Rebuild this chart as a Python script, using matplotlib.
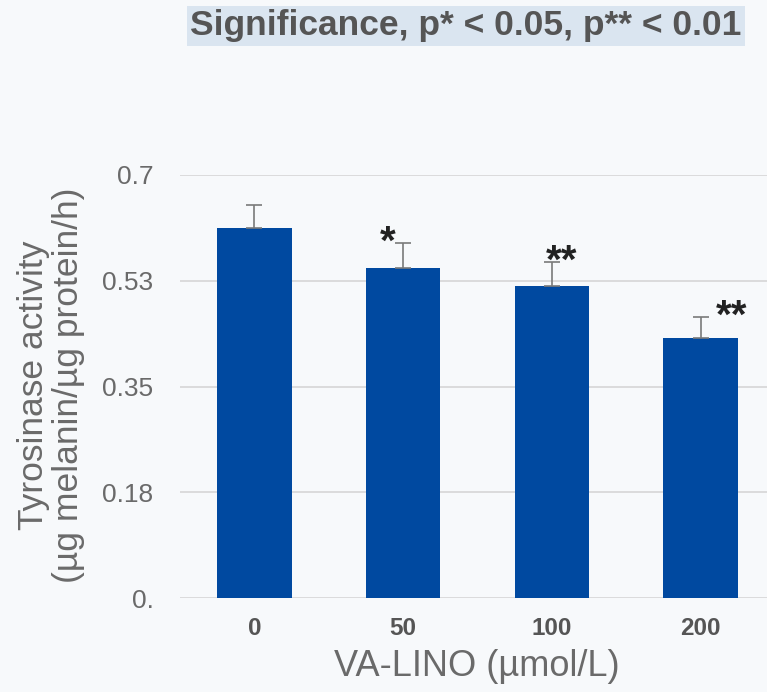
import matplotlib
matplotlib.use('Agg')
import matplotlib.pyplot as plt
import numpy as np

# -[Dati]-----------------------------------------------------------------------
doses  = ["0", "50", "100", "200"]
act    = [0.612, 0.546, 0.517, 0.430]
err    = [0.038, 0.042, 0.039, 0.035]
stars  = ["", "*", "**", "**"]
yticks = [0, 0.175, 0.35, 0.525, 0.7]
ylabs  = ["0.", "0.18", "0.35", "0.53", "0.7"]

# -[Figura]---------------------------------------------------------------------
plt.rcParams['font.family'] = ['Liberation Sans', 'DejaVu Sans']
fig = plt.figure(figsize=(7.67, 6.92), dpi=100, facecolor="#f7f9fb")
W, H = 767, 692
ax = fig.add_axes([180/W, 1-598/H, (775-180)/W, (598-175)/H])
ax.set_facecolor("none")

xx = np.arange(len(doses))
ax.bar(xx, act, width=0.5, color="#0049a0", zorder=3)
ax.errorbar(xx, act, yerr=[np.zeros(len(err)), err], fmt="none",
            ecolor="#7a7a7a", elinewidth=1.2, capsize=6, capthick=1.2, zorder=4)

# asterischi di significativita'
offs = [0, -0.104, 0.067, 0.208]
for ii in range(len(doses)):
    if stars[ii]:
        ax.text(xx[ii]+offs[ii], act[ii]+err[ii], stars[ii], ha="center",
                va="center", fontsize=29, fontweight="bold", color="#222222", zorder=5)

ax.set_xlim(-0.5, 3.5)
ax.set_ylim(0, 0.7)
ax.set_yticks(yticks)
ax.set_yticklabels(ylabs, fontsize=19, color="#6a6a6a")
ax.set_xticks(xx)
ax.set_xticklabels(doses, fontsize=17.5, fontweight="bold", color="#555555")
ax.tick_params(length=0)
ax.tick_params(axis="y", pad=19)
ax.tick_params(axis="x", pad=14)
ax.grid(axis="y", color="#d6d6d6", linewidth=1.2, zorder=0)
for s in ax.spines.values():
    s.set_visible(False)

fig.text(51/W, 1-385/H, "Tyrosinase activity\n(µg melanin/µg protein/h)", rotation=90,
         ha="center", va="center", fontsize=25.5, color="#6a6a6a", linespacing=1.1)
fig.text(477/W, 1-667/H, "VA-LINO (µmol/L)", ha="center", va="center",
         fontsize=26, color="#6a6a6a")

fig.text(466/W, 1-26/H, "Significance, p* < 0.05, p** < 0.01", ha="center",
         va="center", fontsize=25.5, fontweight="bold", color="#555555",
         bbox=dict(boxstyle="square,pad=0.1", facecolor="#dae5f0", edgecolor="none"))

fig.savefig("out.png", dpi=100, facecolor=fig.get_facecolor())
